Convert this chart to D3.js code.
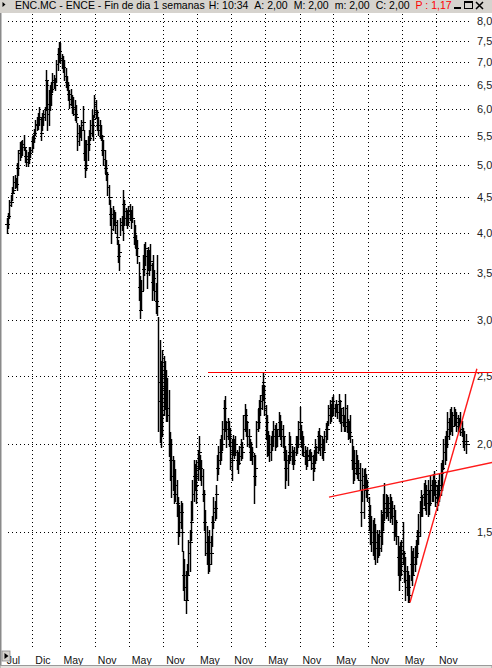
<!DOCTYPE html>
<html>
<head>
<meta charset="utf-8">
<script src="https://cdnjs.cloudflare.com/ajax/libs/d3/7.8.5/d3.min.js"></script>
<style>
  html, body { margin: 0; padding: 0; background: #fff; overflow: hidden; }
  svg { display: block; font-family: "Liberation Sans", Arial, sans-serif; }
</style>
</head>
<body>
<svg id="chart" width="492" height="668"></svg>
<script>
// Weekly bars for ENC.MC, first week starting on this date
const firstWeek = "2006-07-17";

const high = [
  4.20,4.27,4.45,4.52,4.65,4.82,4.83,4.78,5.03,5.25,5.38,
  5.40,5.42,5.52,5.30,5.25,5.22,5.30,5.30,5.48,5.52,
  5.63,5.79,5.85,5.93,6.05,5.83,5.93,5.98,6.05,6.82,
  6.60,6.39,6.50,6.55,6.76,6.72,6.65,7.05,7.33,7.48,
  7.45,7.20,7.15,7.05,6.86,6.70,6.55,6.39,6.42,6.28,
  6.25,6.18,6.08,5.73,5.70,5.66,5.79,6.06,5.60,5.42,
  5.42,5.50,5.60,5.79,5.98,5.88,6.28,6.18,5.98,5.85,
  5.79,5.70,5.52,5.42,5.25,5.08,4.88,4.68,4.45,4.34,
  4.37,4.31,4.28,4.17,3.91,3.85,4.20,4.22,4.60,4.45,
  4.34,4.31,4.37,4.40,4.31,4.37,4.17,4.10,3.97,3.91,
  3.63,3.47,3.43,3.72,3.85,3.88,3.78,3.82,3.78,3.85,
  3.62,3.72,3.54,3.39,3.72,3.03,2.81,2.63,2.72,2.67,
  2.63,2.55,2.48,2.39,2.08,2.03,1.92,1.90,1.84,1.78,
  1.68,1.64,1.66,1.65,1.41,1.37,1.32,1.35,1.46,1.51,
  1.66,1.78,1.90,1.87,1.90,1.96,2.05,1.93,1.90,1.84,
  1.72,1.61,1.53,1.48,1.51,1.48,1.58,1.68,1.66,1.75,
  1.93,1.99,2.03,2.06,2.16,2.31,2.34,2.16,2.18,2.16,
  2.11,2.03,2.06,2.03,2.05,1.96,1.95,1.99,2.03,2.01,
  2.20,2.28,2.24,2.16,2.10,2.03,2.01,1.98,1.94,1.93,
  2.16,2.24,2.31,2.35,2.43,2.53,2.43,2.27,2.20,2.09,
  2.06,2.05,2.09,2.16,2.13,2.14,2.10,2.22,2.20,2.16,
  2.13,2.05,1.99,1.96,1.93,2.08,2.05,1.99,1.96,1.98,
  2.05,2.05,2.16,2.26,2.13,2.09,2.05,1.99,1.96,1.98,
  1.96,1.97,1.95,1.93,1.96,2.03,1.99,2.09,2.11,2.06,
  2.05,2.03,2.09,2.14,2.16,2.27,2.31,2.28,2.33,2.35,
  2.28,2.31,2.27,2.36,2.31,2.24,2.26,2.20,2.36,2.27,
  2.17,2.16,2.20,2.03,1.99,1.96,1.96,1.93,1.90,1.88,
  1.72,1.85,1.84,1.85,1.81,1.78,1.68,1.64,1.58,1.56,
  1.57,1.54,1.51,1.49,1.51,1.61,1.59,1.70,1.76,1.70,
  1.69,1.68,1.70,1.68,1.66,1.64,1.61,1.56,1.48,1.43,
  1.45,1.46,1.55,1.41,1.38,1.34,1.32,1.30,1.43,1.41,
  1.42,1.43,1.46,1.51,1.59,1.66,1.72,1.69,1.76,1.78,
  1.75,1.78,1.72,1.80,1.78,1.81,1.83,1.78,1.75,1.78,
  1.81,1.88,1.90,2.03,2.05,2.09,2.22,2.18,2.24,2.26,
  2.22,2.26,2.24,2.22,2.20,2.18,2.22,2.16,2.11,2.09,2.07,2.00
];

const low = [
  3.99,4.06,4.20,4.37,4.45,4.57,4.63,4.65,4.60,4.83,5.08,
  5.12,5.17,5.25,5.05,4.98,4.98,5.03,5.12,5.22,5.28,
  5.38,5.52,5.60,5.63,5.70,5.42,5.60,5.70,5.79,5.98,
  5.60,5.70,5.98,6.08,6.34,6.44,6.39,6.55,6.82,7.00,
  6.98,6.86,6.78,6.60,6.46,6.39,6.18,6.02,6.08,5.92,
  5.88,5.79,5.75,5.25,5.33,5.48,5.42,5.60,5.08,4.80,
  4.91,5.08,5.25,5.42,5.52,5.42,5.85,5.83,5.60,5.52,
  5.45,5.42,5.17,5.00,4.86,4.76,4.52,4.40,4.10,3.87,
  4.04,4.10,4.00,3.85,3.63,3.54,3.97,4.04,3.91,4.10,
  4.10,4.06,4.10,4.17,4.06,4.14,3.85,3.82,3.72,3.62,
  3.21,3.02,3.10,3.31,3.48,3.60,3.34,3.54,3.48,3.54,
  3.21,3.31,3.21,3.07,3.05,2.09,2.01,1.98,2.05,2.20,
  2.24,2.16,2.16,1.92,1.78,1.68,1.72,1.65,1.66,1.58,
  1.44,1.48,1.52,1.41,1.24,1.20,1.15,1.20,1.30,1.32,
  1.46,1.56,1.66,1.72,1.65,1.78,1.84,1.78,1.75,1.66,
  1.51,1.39,1.35,1.31,1.32,1.35,1.43,1.52,1.56,1.57,
  1.78,1.81,1.87,1.90,1.96,2.03,2.09,1.98,2.03,1.99,
  1.84,1.78,1.93,1.91,1.93,1.84,1.82,1.87,1.90,1.91,
  2.03,2.09,2.05,1.99,1.98,1.90,1.90,1.87,1.65,1.75,
  1.98,2.09,2.11,2.20,2.24,2.31,2.20,2.03,1.92,1.93,
  1.89,1.90,1.96,1.99,1.96,1.98,1.99,2.06,2.03,1.99,
  1.98,1.90,1.73,1.78,1.75,1.88,1.90,1.87,1.84,1.87,
  1.93,1.94,1.98,2.03,1.98,1.93,1.92,1.87,1.84,1.86,
  1.90,1.90,1.84,1.78,1.83,1.88,1.90,1.94,1.96,1.93,
  1.91,1.90,1.96,2.01,2.03,2.13,2.14,2.16,2.19,2.20,
  2.19,2.22,2.18,2.16,2.14,2.09,2.13,2.09,2.09,2.08,
  2.03,2.04,2.01,1.84,1.76,1.78,1.81,1.79,1.78,1.72,
  1.53,1.66,1.57,1.72,1.68,1.66,1.51,1.44,1.41,1.39,
  1.37,1.35,1.36,1.38,1.39,1.41,1.44,1.51,1.56,1.57,
  1.58,1.56,1.55,1.57,1.54,1.46,1.48,1.44,1.30,1.24,
  1.28,1.30,1.35,1.27,1.20,1.22,1.19,1.19,1.28,1.26,
  1.30,1.32,1.35,1.38,1.44,1.48,1.58,1.58,1.64,1.61,
  1.59,1.58,1.59,1.64,1.66,1.66,1.69,1.63,1.61,1.64,
  1.66,1.69,1.72,1.84,1.87,1.90,1.98,2.03,2.07,2.09,
  2.06,2.12,2.13,2.09,2.08,2.09,2.06,2.05,1.98,1.96,1.94,2.00
];

const close = [
  4.12,4.22,4.38,4.42,4.55,4.60,4.72,4.70,4.95,5.20,5.25,
  5.30,5.35,5.30,5.15,5.05,5.10,5.20,5.25,5.40,5.45,
  5.55,5.70,5.72,5.85,5.80,5.55,5.85,5.90,6.00,6.60,
  5.90,6.10,6.30,6.40,6.55,6.60,6.50,6.95,7.20,7.25,
  7.10,7.05,6.90,6.70,6.55,6.50,6.30,6.10,6.20,6.05,
  6.00,5.90,5.85,5.40,5.55,5.60,5.70,5.75,5.20,4.95,
  5.00,5.35,5.45,5.55,5.70,5.80,6.10,5.95,5.70,5.60,
  5.50,5.50,5.25,5.10,4.95,4.85,4.65,4.50,4.25,4.05,
  4.20,4.15,4.10,3.95,3.70,3.75,4.10,4.15,4.40,4.30,
  4.20,4.15,4.30,4.25,4.20,4.20,3.95,3.90,3.80,3.70,
  3.35,3.10,3.30,3.55,3.70,3.80,3.50,3.75,3.60,3.65,
  3.40,3.45,3.30,3.20,3.15,2.30,2.45,2.20,2.50,2.40,
  2.35,2.25,2.20,2.00,1.90,1.80,1.80,1.70,1.75,1.65,
  1.50,1.55,1.60,1.50,1.30,1.25,1.20,1.30,1.40,1.45,
  1.55,1.70,1.80,1.80,1.75,1.85,1.95,1.85,1.80,1.70,
  1.55,1.45,1.40,1.35,1.45,1.40,1.55,1.60,1.62,1.70,
  1.85,1.90,1.95,2.00,2.10,2.25,2.15,2.05,2.10,2.05,
  1.95,1.90,2.00,1.95,2.00,1.90,1.88,1.92,1.98,1.95,
  2.10,2.20,2.15,2.05,2.05,1.95,1.95,1.92,1.80,1.85,
  2.10,2.15,2.25,2.30,2.35,2.45,2.25,2.15,2.05,2.00,
  1.95,2.00,2.05,2.10,2.05,2.10,2.05,2.15,2.10,2.10,
  2.05,1.95,1.85,1.85,1.90,1.95,2.00,1.92,1.90,1.95,
  2.00,2.00,2.10,2.15,2.05,2.00,1.95,1.92,1.90,1.92,
  1.93,1.92,1.88,1.85,1.90,1.98,1.95,2.05,2.05,2.00,
  1.98,1.95,2.05,2.10,2.10,2.20,2.25,2.20,2.30,2.25,
  2.25,2.28,2.22,2.30,2.25,2.15,2.20,2.12,2.25,2.15,
  2.10,2.08,2.05,1.90,1.85,1.82,1.88,1.85,1.82,1.78,
  1.60,1.75,1.80,1.78,1.72,1.70,1.58,1.50,1.45,1.45,
  1.45,1.42,1.45,1.42,1.48,1.50,1.55,1.60,1.65,1.62,
  1.62,1.60,1.65,1.62,1.58,1.50,1.55,1.48,1.38,1.30,
  1.35,1.40,1.40,1.32,1.28,1.25,1.25,1.22,1.35,1.30,
  1.35,1.38,1.40,1.48,1.50,1.60,1.68,1.62,1.70,1.72,
  1.65,1.70,1.65,1.75,1.72,1.78,1.75,1.70,1.68,1.72,
  1.75,1.82,1.85,1.95,2.00,2.05,2.10,2.15,2.18,2.20,
  2.12,2.20,2.18,2.15,2.12,2.14,2.10,2.08,2.02,2.00,2.02,2.00
];

// Right-hand price axis (log scale)
const priceTicks = [8.0, 7.5, 7.0, 6.5, 6.0, 5.5, 5.0, 4.5, 4.0, 3.5, 3.0, 2.5, 2.0, 1.5];

// Month markers along the bottom
const monthTicks = ["2006-07-01", "2006-12-01", "2007-05-01", "2007-11-01", "2008-05-01",
  "2008-11-01", "2009-05-01", "2009-11-01", "2010-05-01", "2010-11-01", "2011-05-01",
  "2011-11-01", "2012-05-01", "2012-11-01"];

// Drawn trend lines: [date, price] end points
const resistanceLine = [["2009-06-29", 2.53], ["2013-09-06", 2.53]];
const risingLine = [["2011-04-08", 1.68], ["2013-09-06", 1.885]];
const steepLine = [["2012-06-15", 1.19], ["2013-06-08", 2.56]];

// Title bar quote fields
const titleText = "ENC.MC - ENCE - Fin de dia 1 semanas";
const quoteFields = ["H: 10:34", "A: 2,00", "M: 2,00", "m: 2,00", "C: 2,00"];
const lastField = "P : 1,17";

const parse = d3.timeParse("%Y-%m-%d");
const es = d3.timeFormatLocale({
  dateTime: "%A, %e de %B de %Y, %X", date: "%d/%m/%Y", time: "%H:%M:%S",
  periods: ["AM", "PM"],
  days: ["domingo","lunes","martes","miércoles","jueves","viernes","sábado"],
  shortDays: ["dom","lun","mar","mié","jue","vie","sáb"],
  months: ["enero","febrero","marzo","abril","mayo","junio","julio","agosto","septiembre","octubre","noviembre","diciembre"],
  shortMonths: ["Ene","Feb","Mar","Abr","May","Jun","Jul","Ago","Sep","Oct","Nov","Dic"]
});
const monthFmt = es.format("%b");
const priceFmt = p => d3.format(".1f")(p).replace(".", ",");

const W = 492, H = 668;
const svg = d3.select("#chart");

const start = parse(firstWeek);
const bars = high.map((h, i) => ({
  date: d3.timeDay.offset(start, 7 * i),
  high: h, low: low[i], close: close[i],
  open: i > 0 ? close[i - 1] : close[i]
}));

const x = d3.scaleTime()
  .domain([parse("2006-12-01"), parse("2012-11-01")])
  .range([32.3, 436]);
const y = d3.scaleLog()
  .domain([1.5, 8])
  .range([531.7, 21.45]);

const snap = v => Math.round(v) + 0.5;

// background
svg.append("rect").attr("width", W).attr("height", H).attr("fill", "#fff");

// horizontal dotted grid
const grid = svg.append("g").attr("stroke", "#000").attr("stroke-dasharray", "1,3")
  .attr("shape-rendering", "crispEdges");
grid.selectAll("line.h").data(priceTicks).join("line")
  .attr("class", "h")
  .attr("x1", 8).attr("x2", 471)
  .attr("y1", d => snap(y(d))).attr("y2", d => snap(y(d)));

// vertical dotted grid (first marker sits under the left edge)
grid.selectAll("line.v").data(monthTicks.slice(1)).join("line")
  .attr("class", "v")
  .attr("x1", d => snap(x(parse(d)))).attr("x2", d => snap(x(parse(d))))
  .attr("y1", 14).attr("y2", 648);

// price axis labels on the right
svg.append("g").selectAll("text").data(priceTicks).join("text")
  .attr("x", 477).attr("y", d => y(d)).attr("dy", "0.36em")
  .attr("font-size", 11).attr("fill", "#222")
  .text(priceFmt);

// month labels along the bottom
svg.append("g").selectAll("text").data(monthTicks).join("text")
  .attr("x", d => x(parse(d)) + 3).attr("y", 664)
  .attr("font-size", 10.5).attr("fill", "#111")
  .text(d => monthFmt(parse(d)));

// OHLC bars: high-low stems with open (left) and close (right) ticks
const barG = svg.append("g").attr("stroke", "#000");
barG.selectAll("line.hl").data(bars).join("line")
  .attr("class", "hl")
  .attr("stroke-width", 1.45)
  .attr("x1", d => snap(x(d.date))).attr("x2", d => snap(x(d.date)))
  .attr("y1", d => Math.round(y(d.high))).attr("y2", d => Math.round(y(d.low)) + 1);
const ticks = barG.append("g").attr("stroke-width", 1).attr("shape-rendering", "crispEdges");
ticks.selectAll("line.c").data(bars).join("line")
  .attr("class", "c")
  .attr("x1", d => Math.round(x(d.date))).attr("x2", d => Math.round(x(d.date)) + 3)
  .attr("y1", d => snap(y(d.close))).attr("y2", d => snap(y(d.close)));
ticks.selectAll("line.o").data(bars).join("line")
  .attr("class", "o")
  .attr("x1", d => Math.round(x(d.date)) - 2).attr("x2", d => Math.round(x(d.date)) + 1)
  .attr("y1", d => snap(y(d.open))).attr("y2", d => snap(y(d.open)));

// trend lines
const lineGen = d3.line().x(d => x(parse(d[0]))).y(d => y(d[1]));
svg.append("path").datum(resistanceLine).attr("d", lineGen)
  .attr("fill", "none").attr("stroke", "#ff0000").attr("stroke-width", 1)
  .attr("shape-rendering", "crispEdges")
  .attr("transform", "translate(0,0.5)");
[risingLine, steepLine].forEach(seg => {
  svg.append("path").datum(seg).attr("d", lineGen)
    .attr("fill", "none").attr("stroke", "#ff1a1a").attr("stroke-width", 1.4);
});

// window frame: left border
svg.append("line").attr("x1", 0.75).attr("x2", 0.75).attr("y1", 13).attr("y2", H)
  .attr("stroke", "#8a8a8a").attr("stroke-width", 1.5);

// title bar
const bar = svg.append("g");
bar.append("rect").attr("x", 0).attr("y", 0).attr("width", W).attr("height", 13)
  .attr("fill", "#d6d3ce");
bar.append("path").attr("d", "M2.5,2 L5.5,4.5 L2.5,7 Z").attr("fill", "#000");
const tFont = 10.5;
let cx = 15;
const t0 = bar.append("text").attr("x", cx).attr("y", 9).attr("font-size", tFont)
  .attr("fill", "#000").text(titleText);
cx += t0.node().getComputedTextLength() + 4;
quoteFields.forEach(f => {
  const t = bar.append("text").attr("x", cx).attr("y", 9).attr("font-size", tFont)
    .attr("fill", "#000").text(f);
  cx += t.node().getComputedTextLength() + 6;
});
bar.append("text").attr("x", cx).attr("y", 9).attr("font-size", tFont)
  .attr("fill", "#ff0000").text(lastField);

// window buttons
bar.append("rect").attr("x", 454).attr("y", 7).attr("width", 7).attr("height", 2).attr("fill", "#000");
bar.append("rect").attr("x", 464.5).attr("y", 1.5).attr("width", 8).attr("height", 7)
  .attr("fill", "none").attr("stroke", "#000").attr("stroke-width", 1);
bar.append("rect").attr("x", 464.5).attr("y", 1.5).attr("width", 8).attr("height", 1.5).attr("fill", "#000");
bar.append("path").attr("d", "M476,2 L483,9 M483,2 L476,9")
  .attr("stroke", "#000").attr("stroke-width", 1.5);

// bottom scroll strip
svg.append("rect").attr("x", 0).attr("y", 665.5).attr("width", W).attr("height", 3)
  .attr("fill", "#e4e2de").attr("stroke", "#9a9a9a").attr("stroke-width", 1);
svg.append("rect").attr("x", 2).attr("y", 651).attr("width", 8).attr("height", 10)
  .attr("fill", "#d6d3ce").attr("stroke", "#8a8a8a").attr("stroke-width", 0.8);
svg.append("path").attr("d", "M4.5,653 L8.5,656 L4.5,659 Z").attr("fill", "#000");
</script>
</body>
</html>
